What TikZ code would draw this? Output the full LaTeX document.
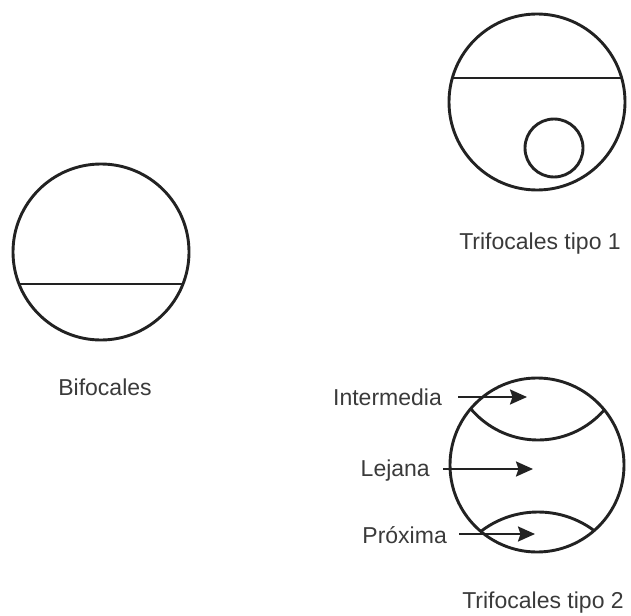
\documentclass[tikz,border=0pt]{standalone}
\usepackage{fontspec}
\setmainfont{Liberation Sans}
\usetikzlibrary{arrows.meta}
\definecolor{ink}{HTML}{222222}
\definecolor{txt}{HTML}{3A3A3A}
\begin{document}
\begin{tikzpicture}[x=1pt,y=-1pt,
  lens/.style={circle,draw=ink,line width=2.9pt,inner sep=0pt},
  lbl/.style={inner sep=0pt,text=txt,font=\fontsize{23}{28}\selectfont},
  pointer/.style={draw=ink,line width=2.3pt,-{Stealth[length=17pt,width=15pt,inset=2.5pt]}},
  seg/.style={draw=ink,line width=2.9pt}]
\useasboundingbox (0,0) rectangle (631,615);

% Bifocales
\node[lens,minimum size=176pt] (bif) at (101,252) {};
\begin{scope}
  \clip (bif.center) circle[radius=88pt];
  \draw[seg] (0,284) -- (220,284);
\end{scope}
\node[lbl,anchor=base] (tbif) at (105,395) {Bifocales};

% Trifocales tipo 1
\node[lens,minimum size=176pt] (tri1) at (537,102) {};
\node[lens,minimum size=58pt] (near1) at (554,148) {};
\begin{scope}
  \clip (tri1.center) circle[radius=88pt];
  \draw[seg] (430,78) -- (640,78);
\end{scope}
\node[lbl,anchor=base] (ttri1) at (540,249) {Trifocales tipo 1};

% Trifocales tipo 2
\node[lens,minimum size=174pt] (tri2) at (537,465) {};
\begin{scope}
  \clip (tri2.center) circle[radius=87pt];
  \draw[seg] (538,352) circle[radius=88pt];
  \draw[seg] (538,606) circle[radius=94pt];
\end{scope}
\node[lbl,anchor=base] (ttri2) at (543,608) {Trifocales tipo 2};

\node[lbl,anchor=base east] (inter) at (442,405) {Intermedia};
\node[lbl,anchor=base east] (lej) at (430,476) {Lejana};
\node[lbl,anchor=base east] (prox) at (447,543) {Próxima};

\coordinate (pI) at (527,397);
\coordinate (pL) at (533,469);
\coordinate (pP) at (535,534);
\draw[pointer] (458,397) -- (pI);
\draw[pointer] (443,469) -- (pL);
\draw[pointer] (459,534) -- (pP);
\end{tikzpicture}
\end{document}
